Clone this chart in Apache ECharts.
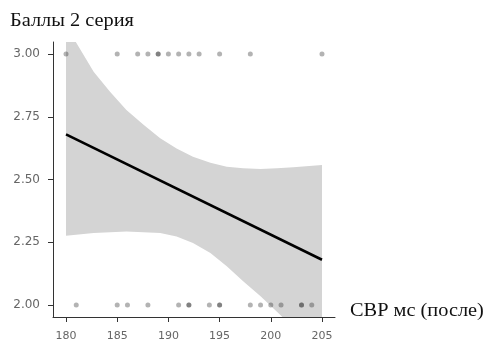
<!DOCTYPE html>
<html>
<head>
<meta charset="utf-8">
<script src="https://cdn.jsdelivr.net/npm/echarts@6/dist/echarts.min.js"></script>
<style>
  html, body { margin: 0; padding: 0; background: #fff; }
  #chart { width: 485px; height: 340px; }
</style>
</head>
<body>
<div id="chart"></div>
<script>
// observed points: CBP value for each subject by score
const svrScore3 = [180, 185, 187, 188, 189, 189, 190, 191, 192, 193, 195, 198, 205];
const svrScore2 = [181, 185, 186, 188, 191, 192, 192, 194, 195, 195, 198, 199, 200, 201, 203, 203, 204];

// fitted line (ends)
const fitX = [180, 205];
const fitY = [2.68, 2.18];

// confidence band edges
const bandUpperX = [180, 180.9, 182.7, 184.3, 185.9, 187.6, 189.2, 190.8, 192.4, 194.1, 195.7, 197.3, 199, 200.6, 202.2, 205];
const bandUpper = [3.11, 3.052, 2.929, 2.85, 2.777, 2.717, 2.664, 2.624, 2.591, 2.567, 2.551, 2.545, 2.542, 2.545, 2.549, 2.558];
const bandLowerX = [180, 182.7, 185.9, 189.2, 190.8, 192.4, 194.1, 195.7, 197.3, 199, 200.6, 202.2, 205];
const bandLower = [2.276, 2.287, 2.293, 2.287, 2.273, 2.247, 2.207, 2.154, 2.094, 2.035, 1.973, 1.91, 1.80];

const xTicks = [180, 185, 190, 195, 200, 205];
const yTicks = [2.00, 2.25, 2.50, 2.75, 3.00];

const chart = echarts.init(document.getElementById('chart'), null, { renderer: 'canvas' });

const points = svrScore3.map((x) => [x, 3]).concat(svrScore2.map((x) => [x, 2]));
const bandPoly = bandUpperX.map((x, i) => [x, bandUpper[i]])
    .concat(bandLowerX.map((x, i) => [x, bandLower[i]]).reverse());

const axisColor = '#333';
const labelStyle = { color: '#666', fontFamily: 'DejaVu Sans', fontSize: 11 };

const option = {
    animation: false,
    grid: { left: 53, right: 150, top: 42, bottom: 23, outerBoundsMode: 'none' },
    xAxis: {
        type: 'value',
        min: 178.73,
        max: 206.27,
        axisLine: { lineStyle: { color: axisColor, width: 1 } },
        axisTick: { customValues: xTicks, length: 5, lineStyle: { color: axisColor } },
        axisLabel: { customValues: xTicks, margin: 14, ...labelStyle },
        splitLine: { show: false },
    },
    yAxis: {
        type: 'value',
        min: 1.952,
        max: 3.048,
        axisLine: { show: true, lineStyle: { color: axisColor, width: 1 } },
        axisTick: { show: true, customValues: yTicks, length: 5, lineStyle: { color: axisColor } },
        axisLabel: {
            customValues: yTicks,
            margin: 13,
            formatter: (v) => v.toFixed(2),
            ...labelStyle,
            fontSize: 12,
        },
        splitLine: { show: false },
    },
    graphic: [
        {
            type: 'text',
            x: 10,
            y: 12,
            scaleX: 1.1,
            style: { text: 'Баллы 2 серия', font: '18.5px "Liberation Serif"', fill: '#111' },
        },
        {
            type: 'text',
            x: 350,
            y: 302,
            scaleX: 1.1,
            style: { text: 'СВР мс (после)', font: '18.5px "Liberation Serif"', fill: '#111' },
        },
    ],
    series: [
        {
            type: 'custom',
            clip: true,
            z: 1,
            data: [0],
            renderItem: (params, api) => ({
                type: 'polygon',
                shape: { points: bandPoly.map((p) => api.coord(p)) },
                style: { fill: '#d4d4d4' },
            }),
        },
        {
            type: 'scatter',
            z: 2,
            data: points,
            symbolSize: 5,
            itemStyle: { color: 'rgba(34,34,34,0.43)' },
        },
        {
            type: 'line',
            z: 3,
            data: fitX.map((x, i) => [x, fitY[i]]),
            symbol: 'none',
            lineStyle: { color: '#000', width: 2.6 },
        },
    ],
};

chart.setOption(option);
</script>
</body>
</html>
